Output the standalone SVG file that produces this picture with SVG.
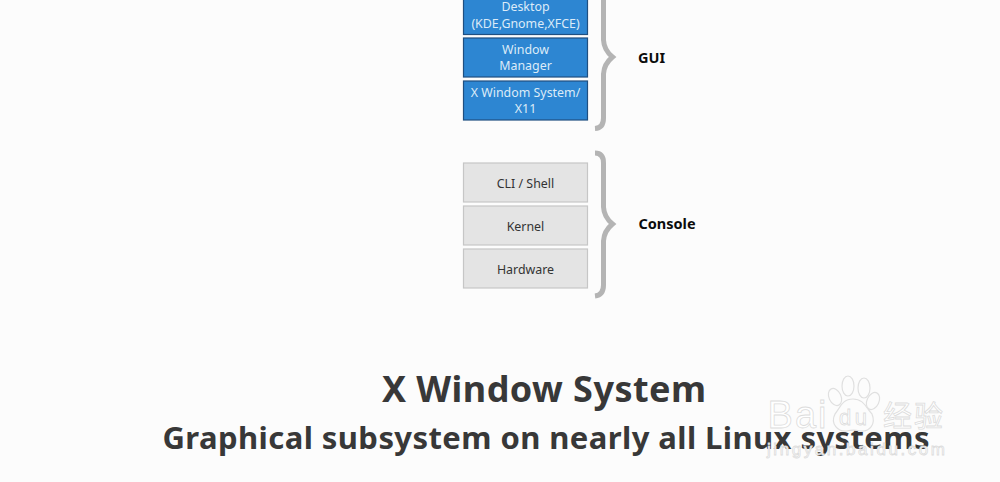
<svg xmlns="http://www.w3.org/2000/svg" width="1000" height="482" viewBox="0 0 1000 482">
<style>
text{font-family:"Noto Sans","Open Sans","DejaVu Sans",sans-serif;text-anchor:middle}
.blue{fill:#2d86d2;stroke:#1f4f80;stroke-width:1.2}
.gray{fill:#e4e4e4;stroke:#c6c6c6;stroke-width:1.2}
.bt{fill:#dcebf8;font-size:12.4px}
.gt{fill:#333;font-size:12.4px}
.lab{fill:#0c0c0c;font-size:14.500px;font-weight:700}
.brace{fill:none;stroke:#b4b4b4;stroke-width:5}
.title{fill:#383838;font-weight:700}
.wm{fill:#fcfcfc;stroke:#e0e0e0;stroke-width:1.2}
.wt{fill:#fff;stroke:#dcdcdc;stroke-width:.8;font-family:"Liberation Sans",sans-serif}
.wc{font-family:"Noto Sans CJK SC",sans-serif}
</style>
<rect width="1000" height="482" fill="#fcfcfc"/>
<g id="node-desktop"><rect class="blue" x="463.500" y="-10" width="124" height="44.500"/><text class="bt" x="525.500" y="11">Desktop</text><text class="bt" x="525.500" y="28">(KDE,Gnome,XFCE)</text></g>
<g id="node-wm"><rect class="blue" x="463.500" y="38" width="124" height="39"/><text class="bt" x="525.500" y="54">Window</text><text class="bt" x="525.500" y="70">Manager</text></g>
<g id="node-x11"><rect class="blue" x="463.500" y="81" width="124" height="39"/><text class="bt" x="525.500" y="96.500">X Windom System/</text><text class="bt" x="525.500" y="113">X11</text></g>
<g id="node-cli"><rect class="gray" x="463.500" y="163" width="124" height="39"/><text class="gt" x="525.500" y="188">CLI / Shell</text></g>
<g id="node-kernel"><rect class="gray" x="463.500" y="206" width="124" height="39"/><text class="gt" x="525.500" y="231">Kernel</text></g>
<g id="node-hardware"><rect class="gray" x="463.500" y="249" width="124" height="39"/><text class="gt" x="525.500" y="273.500">Hardware</text></g>
<g id="connectors">
<path class="brace" d="M603.500 -10V40Q604 50 612.500 57Q604 64 603.500 74V118Q603.500 128 595 128.500"/>
<path class="brace" d="M595 153Q603.500 153 603.500 163V207Q604 217 612.500 224Q604 231 603.500 241V285Q603.500 295 595 296"/>
</g>
<g id="node-gui"><text class="lab" x="651.500" y="63">GUI</text></g>
<g id="node-console"><text class="lab" x="667" y="229">Console</text></g>
<text class="title" x="544" y="402" font-size="36" textLength="324">X Window System</text>
<text class="title" x="546" y="449" font-size="31" textLength="767">Graphical subsystem on nearly all Linux systems</text>
<g id="watermark">
<path class="wm" d="M853 399C842 399 840 408 835 414C830 424 838 432 847 431C851 430 856 430 860 431C870 432 876 424 872 414C866 408 864 399 853 399Z"/>
<ellipse class="wm" cx="835" cy="397" rx="6" ry="9" transform="rotate(-25 835 397)"/>
<ellipse class="wm" cx="848" cy="386" rx="6" ry="10"/>
<ellipse class="wm" cx="864" cy="388" rx="6" ry="10"/>
<ellipse class="wm" cx="873" cy="401" rx="6" ry="9" transform="rotate(25 873 401)"/>
<text class="wt" x="797" y="428" font-size="38" textLength="59">Bai</text>
<text class="wt" x="853" y="425" font-size="22" textLength="28">du</text>
<text class="wt wc" x="913" y="427" font-size="29" textLength="60">经验</text>
<text class="wt" x="856" y="455" font-size="17" textLength="178">jingyan.baidu.com</text>
</g>
</svg>
